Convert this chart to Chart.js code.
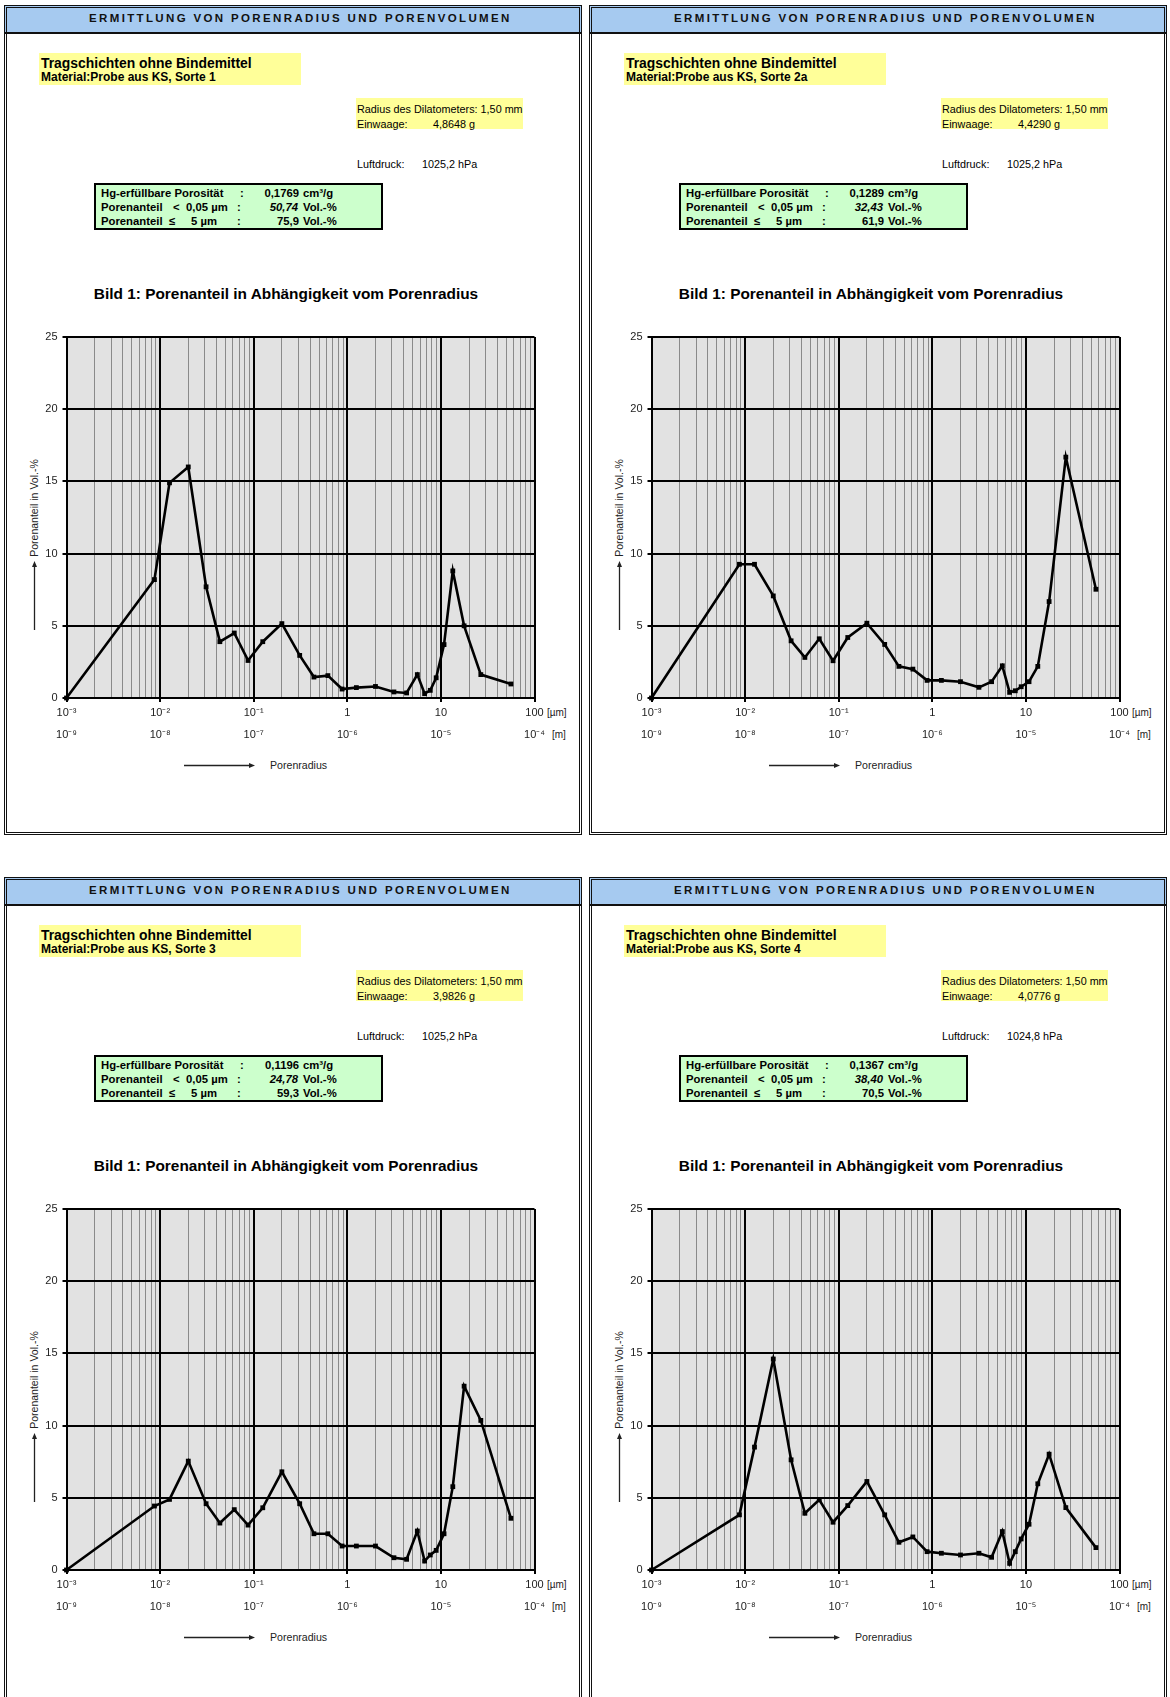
<!DOCTYPE html>
<html>
<head>
<meta charset="utf-8">
<script src="https://cdn.jsdelivr.net/npm/chart.js@4.4.0/dist/chart.umd.min.js"></script>
<style>
html,body{margin:0;padding:0;background:#fff;width:1170px;height:1697px;overflow:hidden;
  font-family:"Liberation Sans",Arial,Helvetica,sans-serif;color:#000}
.panel{position:absolute;width:578px;height:830px;background:#fff}
.frame{position:absolute;left:0;top:0;right:0;bottom:0;border:3px double #111;box-sizing:border-box;pointer-events:none;z-index:5}
.hdr{position:absolute;left:0;top:0;right:0;height:27px;background:#a6caf0;border-bottom:2px solid #111}
.box{position:absolute;box-sizing:border-box}
.t{position:absolute;white-space:pre;height:16px;line-height:16px}
canvas{position:absolute}
svg{position:absolute;left:0;top:0;overflow:visible}
</style>
</head>
<body>
<script>
// ---------- data ----------
const radiusUm = [0.001, 0.0087, 0.0126, 0.02, 0.031, 0.0435, 0.062, 0.087, 0.125, 0.2, 0.31, 0.44, 0.62, 0.88, 1.25, 2.0, 3.15, 4.3, 5.6, 6.7, 7.7, 8.9, 10.8, 13.4, 17.7, 26.7, 56];
const sorte1  = [0, 8.2, 14.9, 16.0, 7.7, 3.9, 4.5, 2.6, 3.9, 5.15, 2.95, 1.45, 1.55, 0.62, 0.72, 0.8, 0.42, 0.35, 1.62, 0.3, 0.53, 1.4, 3.7, 8.8, 5.0, 1.62, 0.97];
const sorte2a = [0, 9.26, 9.26, 7.07, 3.96, 2.81, 4.1, 2.58, 4.19, 5.18, 3.71, 2.19, 2.0, 1.22, 1.22, 1.13, 0.74, 1.13, 2.23, 0.39, 0.5, 0.78, 1.13, 2.19, 6.68, 16.68, 7.53];
const sorte3  = [0, 4.43, 4.89, 7.54, 4.59, 3.25, 4.18, 3.11, 4.31, 6.8, 4.59, 2.51, 2.51, 1.66, 1.66, 1.66, 0.85, 0.74, 2.7, 0.62, 1.04, 1.36, 2.51, 5.77, 12.73, 10.36, 3.58];
const sorte4  = [0, 3.82, 8.51, 14.61, 7.63, 3.93, 4.86, 3.31, 4.46, 6.13, 3.82, 1.92, 2.29, 1.27, 1.16, 1.04, 1.16, 0.88, 2.66, 0.46, 1.27, 2.15, 3.17, 5.97, 8.02, 4.32, 1.55];
const seriesList = [sorte1, sorte2a, sorte3, sorte4];

const xTickUm = ['10\u207B\u00B3', '10\u207B\u00B2', '10\u207B\u00B9', '1', '10', '100'];
const xTickM  = ['10\u207B\u2079', '10\u207B\u2078', '10\u207B\u2077', '10\u207B\u2076', '10\u207B\u2075', '10\u207B\u2074'];
const yTicks  = [0, 5, 10, 15, 20, 25];

const sampleNames    = ['Sorte 1', 'Sorte 2a', 'Sorte 3', 'Sorte 4'];
const einwaage       = ['4,8648', '4,4290', '3,9826', '4,0776'];
const luftdruck      = ['1025,2', '1025,2', '1025,2', '1024,8'];
const porositaet     = ['0,1769', '0,1289', '0,1196', '0,1367'];
const anteilUnter005 = ['50,74', '32,43', '24,78', '38,40'];
const anteilBis5     = ['75,9', '61,9', '59,3', '70,5'];

// ---------- layout ----------
const panelPos = [[4, 5], [589, 5], [4, 877], [589, 877]];
const FONT = '"Liberation Sans", Arial, Helvetica, sans-serif';
Chart.defaults.font.family = FONT;

function isDecade(v) { const l = Math.log10(v); return Math.abs(l - Math.round(l)) < 1e-6; }
const xGrid = [];
for (let e = -3; e <= 1; e++) for (let k = 1; k <= 9; k++) xGrid.push(Number((k * Math.pow(10, e)).toPrecision(6)));
xGrid.push(100);

function txt(parent, s, x, cy, size, opts) {
  opts = opts || {};
  const d = document.createElement('div');
  d.className = 't';
  d.textContent = s;
  d.style.fontSize = size + 'px';
  d.style.top = (cy - 8) + 'px';
  if (opts.bold) d.style.fontWeight = 'bold';
  if (opts.italic) d.style.fontStyle = 'italic';
  if (opts.right) { d.style.right = (578 - x) + 'px'; d.style.textAlign = 'right'; }
  else if (opts.center) { d.style.left = (x - 300) + 'px'; d.style.width = '600px'; d.style.textAlign = 'center'; }
  else d.style.left = x + 'px';
  if (opts.color) d.style.color = opts.color;
  parent.appendChild(d);
  return d;
}
function box(parent, x, y, w, h, style) {
  const d = document.createElement('div');
  d.className = 'box';
  d.style.cssText += `left:${x}px;top:${y}px;width:${w}px;height:${h}px;${style}`;
  parent.appendChild(d);
  return d;
}

const bgPlugin = {
  id: 'plotBg',
  beforeDraw(chart) {
    const a = chart.chartArea, c = chart.ctx;
    c.save(); c.fillStyle = '#e2e2e2'; c.fillRect(a.left, a.top, a.right - a.left, a.bottom - a.top); c.restore();
  }
};

panelPos.forEach((pos, i) => {
  const p = document.createElement('div');
  p.className = 'panel';
  p.style.left = pos[0] + 'px';
  p.style.top = pos[1] + 'px';
  document.body.appendChild(p);

  // header
  const hdr = document.createElement('div');
  hdr.className = 'hdr';
  p.appendChild(hdr);
  const hs = document.createElement('span');
  hs.textContent = 'ERMITTLUNG VON PORENRADIUS UND PORENVOLUMEN';
  hs.style.cssText = 'position:absolute;left:85px;top:0;line-height:27px;font-weight:bold;font-size:11.5px;white-space:nowrap;color:#111';
  hdr.appendChild(hs);
  const w0 = hs.getBoundingClientRect().width;
  hs.style.letterSpacing = ((418 - w0) / 41) + 'px';

  // yellow box 1
  box(p, 35, 48, 262, 32, 'background:#ffff99');
  txt(p, 'Tragschichten ohne Bindemittel', 37, 57.5, 13.9, {bold: true});
  txt(p, 'Material:Probe aus KS, ' + sampleNames[i], 37, 72, 12, {bold: true});

  // yellow box 2
  box(p, 352, 93, 167, 31, 'background:#ffff99');
  txt(p, 'Radius des Dilatometers: 1,50 mm', 353, 103.5, 10.8);
  txt(p, 'Einwaage:', 353, 118.5, 10.8);
  txt(p, einwaage[i] + ' g', 429, 118.5, 10.8);

  // Luftdruck
  txt(p, 'Luftdruck:', 353, 159, 10.8);
  txt(p, luftdruck[i] + ' hPa', 418, 159, 10.8);

  // green box
  box(p, 90, 178, 289, 47, 'background:#ccffcc;border:2px solid #000');
  const gx = 90;
  const fs = 11.3;
  txt(p, 'Hg-erfüllbare Porosität', gx + 7, 188, fs, {bold: true});
  txt(p, ':', gx + 146, 188, fs, {bold: true});
  txt(p, porositaet[i], gx + 205, 188, fs, {bold: true, right: true});
  txt(p, 'cm³/g', gx + 209, 188, fs, {bold: true});
  txt(p, 'Porenanteil', gx + 7, 202, fs, {bold: true});
  txt(p, '<', gx + 79, 202, fs, {bold: true});
  txt(p, '0,05 µm', gx + 92, 202, fs, {bold: true});
  txt(p, ':', gx + 143, 202, fs, {bold: true});
  txt(p, anteilUnter005[i], gx + 204, 202, fs, {bold: true, italic: true, right: true});
  txt(p, 'Vol.-%', gx + 209, 202, fs, {bold: true});
  txt(p, 'Porenanteil', gx + 7, 216, fs, {bold: true});
  txt(p, '≤', gx + 75, 216, fs, {bold: true});
  txt(p, '5 µm', gx + 97, 216, fs, {bold: true});
  txt(p, ':', gx + 143, 216, fs, {bold: true});
  txt(p, anteilBis5[i], gx + 205, 216, fs, {bold: true, right: true});
  txt(p, 'Vol.-%', gx + 209, 216, fs, {bold: true});

  // chart title
  txt(p, 'Bild 1: Porenanteil in Abhängigkeit vom Porenradius', 282, 289, 15.4, {bold: true, center: true});

  // y title
  const yt = txt(p, 'Porenanteil in Vol.-%', 30, 503, 10.5, {center: true, color: '#222'});
  yt.style.transform = 'rotate(-90deg)';
  yt.style.transformOrigin = '300px 8px';

  // unit labels
  txt(p, '[µm]', 543, 708, 10, {color: '#222'});
  txt(p, '[m]', 548, 730, 10, {color: '#222'});

  // Porenradius label
  txt(p, 'Porenradius', 266, 760, 10.6, {color: '#222'});

  // arrows
  const svgNS = 'http://www.w3.org/2000/svg';
  const svg = document.createElementNS(svgNS, 'svg');
  svg.setAttribute('width', '578'); svg.setAttribute('height', '830');
  svg.innerHTML =
    '<line x1="180" y1="760.5" x2="246" y2="760.5" stroke="#222" stroke-width="1.3"/>' +
    '<polygon points="251,760.5 245,758 245,763" fill="#222"/>' +
    '<line x1="30.5" y1="625" x2="30.5" y2="561" stroke="#222" stroke-width="1.3"/>' +
    '<polygon points="30.5,556 28,562 33,562" fill="#222"/>';
  p.appendChild(svg);

  // chart canvas
  const cv = document.createElement('canvas');
  cv.width = 578; cv.height = 443;
  cv.style.left = '0px'; cv.style.top = '300px';
  cv.style.width = '578px'; cv.style.height = '443px';
  p.appendChild(cv);

  const vals = seriesList[i];
  new Chart(cv, {
    type: 'line',
    data: {
      datasets: [{
        data: radiusUm.map((r, k) => ({x: r, y: vals[k]})),
        borderColor: '#000', backgroundColor: '#000',
        borderWidth: 2.6, tension: 0, fill: false, clip: false,
        pointStyle: 'rect', pointRadius: 3.4, pointBorderWidth: 0,
        pointBackgroundColor: '#000', pointBorderColor: '#000'
      }]
    },
    options: {
      responsive: false, animation: false, devicePixelRatio: 1,
      layout: {padding: {left: 0, top: 32, right: 47.5, bottom: 0}},
      plugins: {legend: {display: false}, tooltip: {enabled: false}, title: {display: false}},
      scales: {
        x: {
          type: 'logarithmic', min: 0.001, max: 100, position: 'bottom',
          afterBuildTicks: s => { s.ticks = xGrid.map(v => ({value: v})); },
          afterFit: s => { s.height = 50; },
          grid: {
            color: c => (c.tick && isDecade(c.tick.value)) ? '#000' : '#8a8a8a',
            lineWidth: c => (c.tick && isDecade(c.tick.value)) ? 2 : 1,
            tickColor: c => (c.tick && isDecade(c.tick.value)) ? '#000' : 'rgba(0,0,0,0)',
            tickLength: 4, drawTicks: true
          },
          border: {display: true, color: '#000', width: 2},
          ticks: {
            autoSkip: false, maxRotation: 0, minRotation: 0, padding: 0, color: '#222',
            font: {size: 11, lineHeight: '22px'},
            callback: v => {
              if (!isDecade(v)) return '';
              const idx = Math.round(Math.log10(v)) + 3;
              return [xTickUm[idx], xTickM[idx]];
            }
          }
        },
        y: {
          type: 'linear', min: 0, max: 25,
          afterBuildTicks: s => { s.ticks = yTicks.map(v => ({value: v})); },
          afterFit: s => { s.width = 62.5; },
          grid: {color: '#000', lineWidth: 2, tickColor: '#000', tickLength: 4},
          border: {display: true, color: '#000', width: 2},
          ticks: {padding: 5, color: '#222', font: {size: 11}}
        }
      }
    },
    plugins: [bgPlugin]
  });

  const fr = document.createElement('div');
  fr.className = 'frame';
  p.appendChild(fr);
});
</script>
</body>
</html>
